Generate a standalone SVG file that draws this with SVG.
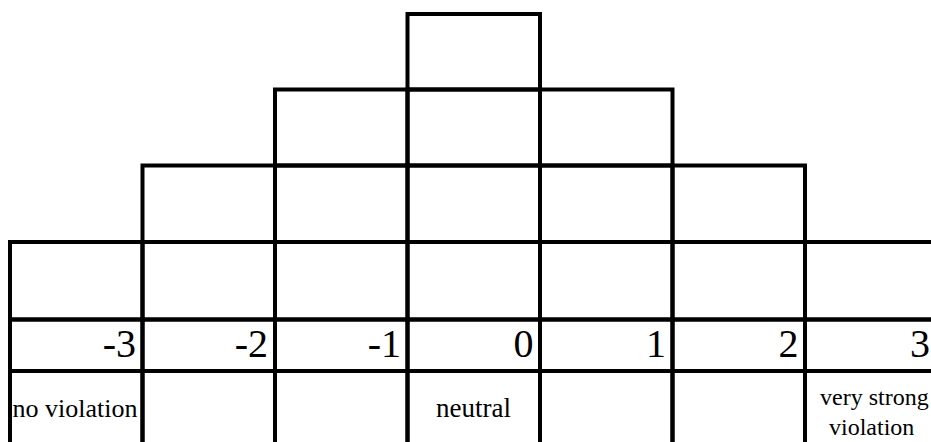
<svg xmlns="http://www.w3.org/2000/svg" width="931" height="442" viewBox="0 0 931 442">
  <style>
    .c { fill: none; stroke: #000; stroke-width: 4; }
  </style>
  <rect x="0" y="0" width="931" height="442" fill="#fff"/>
  <g id="col-m3">
    <rect class="c" x="10" y="242" width="132.5" height="77.5"/>
    <rect class="c" x="10" y="319.5" width="132.5" height="51.5"/>
    <rect class="c" x="10" y="371" width="132.5" height="90"/>
    <text x="102.7" y="357" font-size="40" font-family="Times New Roman, Liberation Serif, serif">-3</text>
    <text x="12.5" y="417" font-size="26" font-family="Times New Roman, Liberation Serif, serif">no violation</text>
  </g>
  <g id="col-m2">
    <rect class="c" x="142.5" y="165.5" width="132.5" height="76.5"/>
    <rect class="c" x="142.5" y="242" width="132.5" height="77.5"/>
    <rect class="c" x="142.5" y="319.5" width="132.5" height="51.5"/>
    <rect class="c" x="142.5" y="371" width="132.5" height="90"/>
    <text x="234.7" y="357" font-size="40" font-family="Times New Roman, Liberation Serif, serif">-2</text>
  </g>
  <g id="col-m1">
    <rect class="c" x="275" y="89.5" width="132.5" height="76"/>
    <rect class="c" x="275" y="165.5" width="132.5" height="76.5"/>
    <rect class="c" x="275" y="242" width="132.5" height="77.5"/>
    <rect class="c" x="275" y="319.5" width="132.5" height="51.5"/>
    <rect class="c" x="275" y="371" width="132.5" height="90"/>
    <text x="367.7" y="357" font-size="40" font-family="Times New Roman, Liberation Serif, serif">-1</text>
  </g>
  <g id="col-0">
    <rect class="c" x="407.5" y="14" width="132.5" height="75.5"/>
    <rect class="c" x="407.5" y="89.5" width="132.5" height="76"/>
    <rect class="c" x="407.5" y="165.5" width="132.5" height="76.5"/>
    <rect class="c" x="407.5" y="242" width="132.5" height="77.5"/>
    <rect class="c" x="407.5" y="319.5" width="132.5" height="51.5"/>
    <rect class="c" x="407.5" y="371" width="132.5" height="90"/>
    <text x="513.5" y="357" font-size="40" font-family="Times New Roman, Liberation Serif, serif">0</text>
    <text x="436" y="417" font-size="27" font-family="Times New Roman, Liberation Serif, serif">neutral</text>
  </g>
  <g id="col-1">
    <rect class="c" x="540" y="89.5" width="132.5" height="76"/>
    <rect class="c" x="540" y="165.5" width="132.5" height="76.5"/>
    <rect class="c" x="540" y="242" width="132.5" height="77.5"/>
    <rect class="c" x="540" y="319.5" width="132.5" height="51.5"/>
    <rect class="c" x="540" y="371" width="132.5" height="90"/>
    <text x="646" y="357" font-size="40" font-family="Times New Roman, Liberation Serif, serif">1</text>
  </g>
  <g id="col-2">
    <rect class="c" x="672.5" y="165.5" width="132.5" height="76.5"/>
    <rect class="c" x="672.5" y="242" width="132.5" height="77.5"/>
    <rect class="c" x="672.5" y="319.5" width="132.5" height="51.5"/>
    <rect class="c" x="672.5" y="371" width="132.5" height="90"/>
    <text x="778.5" y="357" font-size="40" font-family="Times New Roman, Liberation Serif, serif">2</text>
  </g>
  <g id="col-3">
    <rect class="c" x="805" y="242" width="132.5" height="77.5"/>
    <rect class="c" x="805" y="319.5" width="132.5" height="51.5"/>
    <rect class="c" x="805" y="371" width="132.5" height="90"/>
    <text x="910" y="357" font-size="40" font-family="Times New Roman, Liberation Serif, serif">3</text>
    <text x="820" y="405" font-size="24" font-family="Times New Roman, Liberation Serif, serif">very strong</text>
    <text x="829" y="435" font-size="24" font-family="Times New Roman, Liberation Serif, serif">violation</text>
  </g>
</svg>
